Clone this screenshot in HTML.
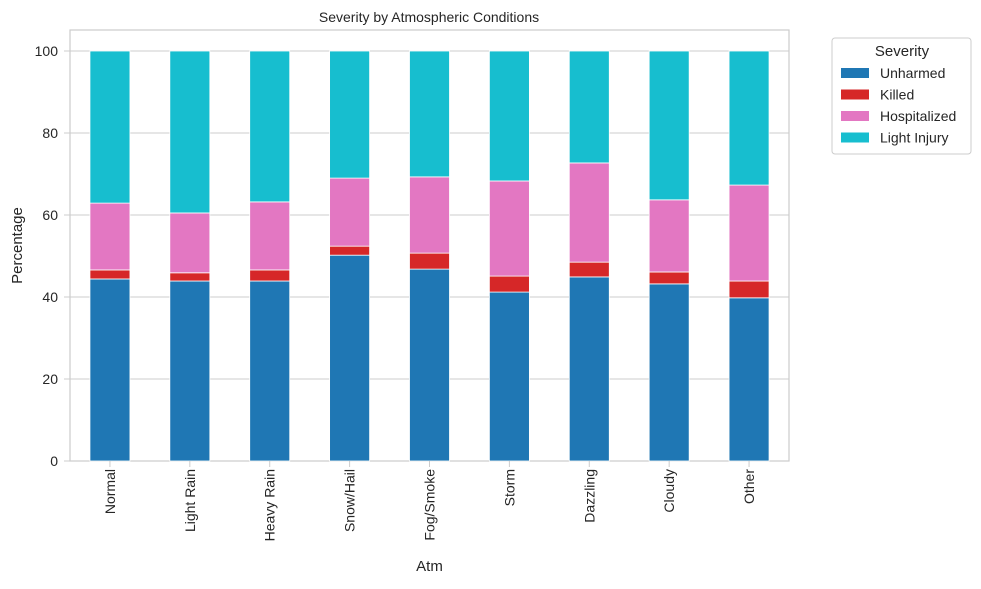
<!DOCTYPE html>
<html><head><meta charset="utf-8"><style>
body{margin:0;background:#fff;font-family:"Liberation Sans",sans-serif;}
svg text{font-family:"Liberation Sans",sans-serif;fill:#262626;}
</style></head><body>
<svg width="981" height="584" id="chart">
<rect width="981" height="584" fill="#fff"/>
<text x="429" y="22" font-size="14" text-anchor="middle">Severity by Atmospheric Conditions</text>
</svg>
<script>
const categories=["Normal","Light Rain","Heavy Rain","Snow/Hail","Fog/Smoke","Storm","Dazzling","Cloudy","Other"];
const unharmed=[44.4,43.9,43.9,50.2,46.8,41.2,44.9,43.2,39.8];
const killed=[2.2,2.0,2.7,2.2,3.9,3.9,3.6,2.9,4.1];
const hospitalized=[16.3,14.6,16.6,16.6,18.6,23.2,24.2,17.6,23.4];
const lightInjury=[37.1,39.5,36.8,31.0,30.7,31.7,27.3,36.3,32.7];
const yTicks=[0,20,40,60,80,100];
const series=[["Unharmed",unharmed,"#1f77b4"],["Killed",killed,"#d62728"],["Hospitalized",hospitalized,"#e377c2"],["Light Injury",lightInjury,"#17becf"]];
const NS="http://www.w3.org/2000/svg",svg=document.getElementById("chart");
const L=70,R=789,T=30,B=461;
const y=v=>B-v*4.1;
const x=i=>L+(R-L)/categories.length*(i+0.5);
function mk(t,a,p){const e=document.createElementNS(NS,t);for(const k in a)e.setAttribute(k,a[k]);(p||svg).appendChild(e);return e;}
const bg=mk("rect",{x:L,y:T,width:R-L,height:B-T,fill:"#fff",stroke:"#ccc","stroke-width":1.2});


yTicks.forEach(t=>{
 const g=mk("line",{x1:L,x2:R,y1:y(t),y2:y(t),stroke:"#ccc","stroke-width":1});
 
 
 const tk=mk("line",{x1:L-6,x2:L,y1:y(t),y2:y(t),stroke:"#ccc","stroke-width":1});
 
 
 const tx=mk("text",{x:L-12,y:y(t)+5,"font-size":14,"text-anchor":"end"});tx.textContent=t;
 
 
});
categories.forEach((c,i)=>{
 let acc=0;
 series.forEach(([n,vals,col])=>{
  const v=vals[i];
  const r=mk("rect",{x:x(i)-20,y:y(acc+v),width:40,height:v*4.1,fill:col,stroke:"#fff","stroke-width":0.8});
  
  
  acc+=v;
 });
 const tk=mk("line",{x1:x(i),x2:x(i),y1:B,y2:B+6,stroke:"#ccc","stroke-width":1});
 
 
 const tx=mk("text",{x:0,y:0,"font-size":14,"text-anchor":"end",transform:`translate(${x(i)+5},${B+8}) rotate(-90)`});tx.textContent=c;
 
 
});
const yl=mk("text",{x:0,y:0,"font-size":15,"text-anchor":"middle",transform:`translate(22,${(T+B)/2}) rotate(-90)`});yl.textContent="Percentage";


const xl=mk("text",{x:(L+R)/2,y:571,"font-size":15,"text-anchor":"middle"});xl.textContent="Atm";


const lg=mk("g",{});


mk("rect",{x:832,y:38,width:139,height:116,fill:"#fff",stroke:"#ccc",rx:3},lg);
const lt=mk("text",{x:902,y:56,"font-size":15,"text-anchor":"middle"},lg);lt.textContent="Severity";
series.forEach(([n,v,col],k)=>{
 const yy=73+k*21.5;
 const sw=mk("rect",{x:841,y:yy-5,width:28,height:10,fill:col},lg);
 
 
 const t=mk("text",{x:880,y:yy+5,"font-size":14},lg);t.textContent=n;
 
 
});
</script>
</body></html>
